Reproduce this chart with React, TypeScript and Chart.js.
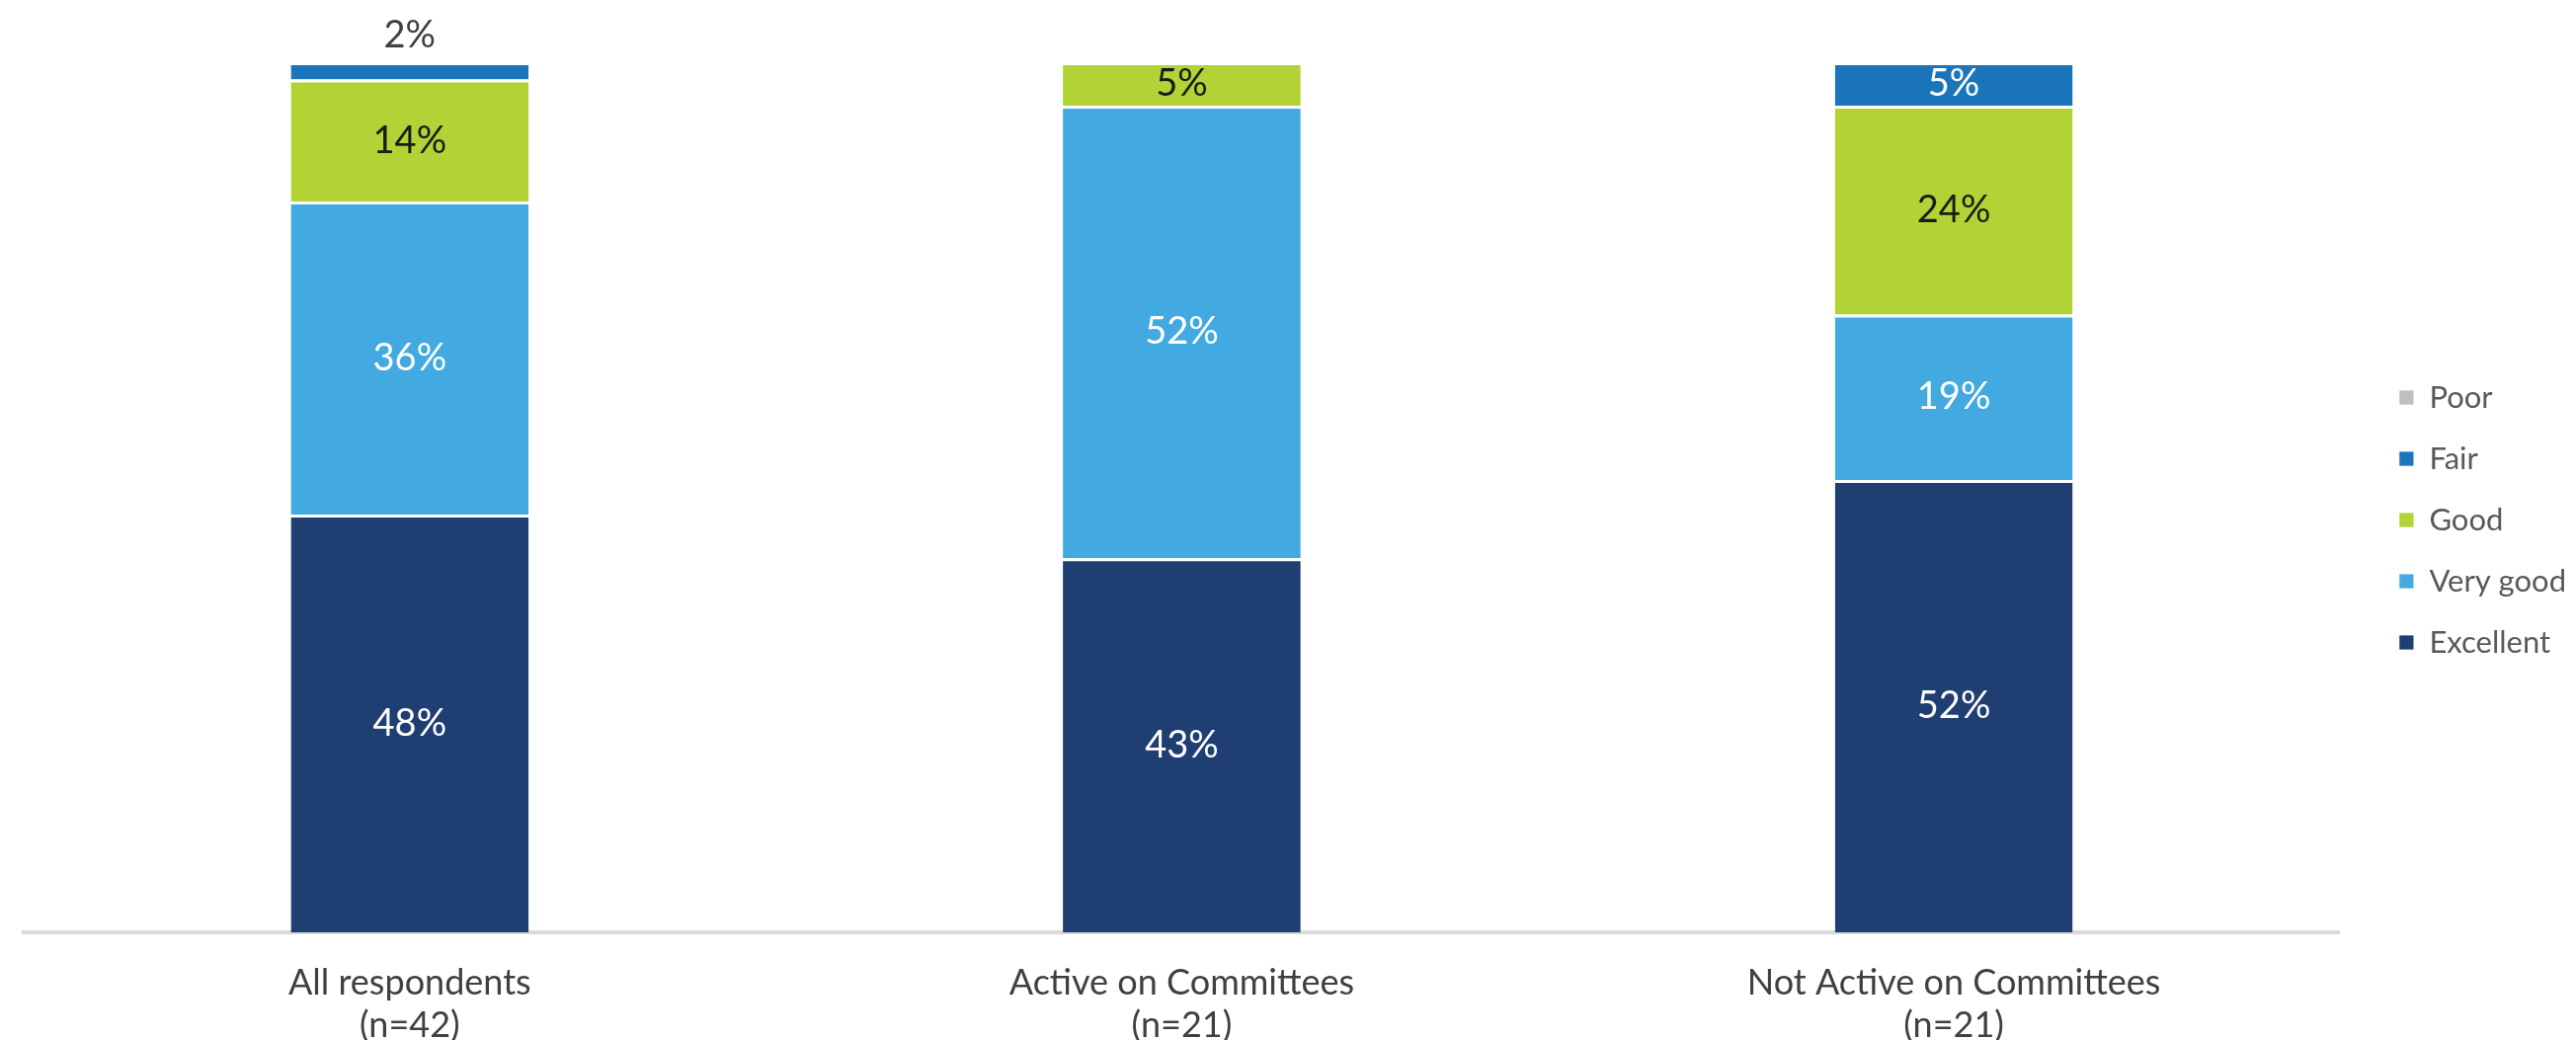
import React, { useEffect, useRef } from "react";
import { Chart, registerables } from "chart.js";

Chart.register(...registerables);

const categories: string[][] = [
  ["All respondents", "(n=42)"],
  ["Active on Committees", "(n=21)"],
  ["Not Active on Committees", "(n=21)"],
];

const seriesNames = ["Excellent", "Very good", "Good", "Fair", "Poor"];
const excellent = [48, 43, 52];
const veryGood = [36, 52, 19];
const good = [14, 5, 24];
const fair = [2, 0, 5];
const poor = [0, 0, 0];

const seriesColors = ["#1F3E72", "#42AAE0", "#B3D235", "#1A75BB", "#BFBFBF"];
const labelColors = ["#FFFFFF", "#FFFFFF", "#1A1A1A", "#FFFFFF", "#404040"];

const FONT = "Lato";

const segLabels = {
  id: "segLabels",
  afterDatasetsDraw(chart: any) {
    const ctx = chart.ctx;
    chart.data.datasets.forEach((ds: any, di: number) => {
      const meta = chart.getDatasetMeta(di);
      if (meta.hidden) return;
      meta.data.forEach((bar: any, i: number) => {
        const v = ds.data[i];
        if (!v) return;
        const { x, y, base } = bar.getProps(["x", "y", "base"], true);
        const h = Math.abs(base - y);
        ctx.save();
        ctx.font = `38px ${FONT}`;
        ctx.textAlign = "center";
        ctx.textBaseline = "middle";
        if (h < 30) {
          ctx.fillStyle = "#404040";
          ctx.fillText(v + "%", x, y - 27);
        } else {
          ctx.fillStyle = labelColors[di];
          ctx.fillText(v + "%", x, (y + base) / 2);
        }
        ctx.restore();
      });
    });
  },
};

export default function App() {
  const ref = useRef<HTMLCanvasElement | null>(null);
  useEffect(() => {
    if (!ref.current) return;
    const values = [excellent, veryGood, good, fair, poor];
    const chart = new Chart(ref.current, {
      type: "bar",
      data: {
        labels: categories,
        datasets: seriesNames.map((name, i) => ({
          label: name,
          data: values[i],
          backgroundColor: seriesColors[i],
          borderColor: "#FFFFFF",
          borderWidth: { top: 3, left: 0, right: 0, bottom: 0 },
          borderSkipped: false,
          categoryPercentage: 1,
          barPercentage: 0.308,
          xAxisID: "x",
          yAxisID: "y",
        })),
      },
      options: {
        animation: false,
        responsive: true,
        maintainAspectRatio: false,
        layout: { padding: { left: 24, right: 0, top: 0, bottom: 0 } },
        plugins: {
          legend: {
            position: "right",
            reverse: true,
            labels: {
              font: { family: FONT, size: 31 },
              color: "#595959",
              boxWidth: 15,
              boxHeight: 15,
              padding: 31,
            },
          },
          tooltip: { enabled: false },
        },
        scales: {
          x: {
            stacked: true,
            position: "bottom",
            grid: { display: false, drawTicks: false },
            border: { display: true, color: "#D9D9D9", width: 4 },
            ticks: {
              font: { family: FONT, size: 36, lineHeight: 1.2 },
              color: "#404040",
              padding: 30,
              maxRotation: 0,
              autoSkip: false,
            },
            afterFit: (s: any) => {
              s.height = 109;
            },
          },
          xTop: {
            type: "linear",
            position: "top",
            display: true,
            grid: { display: false, drawTicks: false },
            border: { display: false },
            ticks: { display: false },
            afterFit: (s: any) => {
              s.height = 63;
            },
          },
          y: {
            stacked: true,
            min: 0,
            max: 100,
            display: false,
          },
          yR: {
            type: "linear",
            position: "right",
            display: true,
            grid: { display: false, drawTicks: false },
            border: { display: false },
            ticks: { display: false },
            afterFit: (s: any) => {
              s.width = 29;
            },
          },
        },
      },
      plugins: [segLabels],
    });
    return () => chart.destroy();
  }, []);
  return (
    <div style={{ position: "absolute", left: 0, top: 0, width: 2608, height: 1053, background: "#FFFFFF" }}>
      <canvas ref={ref} />
    </div>
  );
}
